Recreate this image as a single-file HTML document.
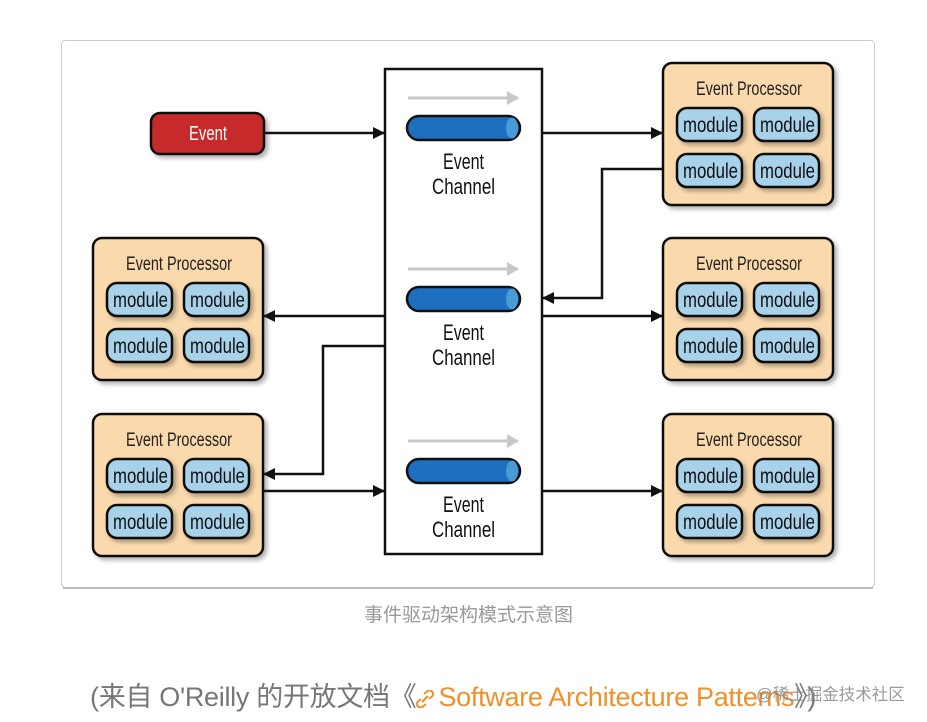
<!DOCTYPE html>
<html><head><meta charset="utf-8"><style>
html,body{margin:0;padding:0;background:#fff;width:927px;height:722px;overflow:hidden}
svg text{font-family:"Liberation Sans",sans-serif}
.cap{position:absolute;left:0;width:937px;top:600px;text-align:center;font:19px "Liberation Sans","Noto Sans CJK SC",sans-serif;color:#999;letter-spacing:0px}
.src{position:absolute;left:90px;top:675px;font:27px "Liberation Sans","Noto Sans CJK SC",sans-serif;color:#777;white-space:nowrap;letter-spacing:-0.3px}
.src a{color:#f0902a;text-decoration:none}
.wm{position:absolute;left:756px;top:681px;font:16.5px "Liberation Sans","Noto Sans CJK SC",sans-serif;color:#888;white-space:nowrap;opacity:.85}
</style></head><body>
<svg width="927" height="722" style="position:absolute;left:0;top:0">
<defs>
<marker id="ah" markerWidth="12" markerHeight="12" refX="11" refY="6" orient="auto" markerUnits="userSpaceOnUse"><path d="M0,0 L12,6 L0,12 z" fill="#111"/></marker>
<marker id="gh" markerWidth="12" markerHeight="14" refX="11" refY="7" orient="auto" markerUnits="userSpaceOnUse"><path d="M0,0 L12,7 L0,14 z" fill="#c8c8c8"/></marker>
<filter id="sh" x="-10%" y="-10%" width="130%" height="130%"><feDropShadow dx="3" dy="3" stdDeviation="2" flood-color="#000" flood-opacity="0.3"/></filter>
<g id="proc">
<rect x="0" y="0" width="170" height="142" rx="9" fill="#fad9ad" stroke="#111" stroke-width="2.5" filter="url(#sh)"/>
<text x="33" y="32" font-size="19" fill="#222" textLength="106" lengthAdjust="spacingAndGlyphs">Event Processor</text>
<g fill="#a8d1ea" stroke="#111" stroke-width="2.5">
<rect x="14" y="45" width="65" height="33" rx="10" filter="url(#sh)"/>
<rect x="91" y="45" width="65" height="33" rx="10" filter="url(#sh)"/>
<rect x="14" y="91" width="65" height="33" rx="10" filter="url(#sh)"/>
<rect x="91" y="91" width="65" height="33" rx="10" filter="url(#sh)"/>
</g>
<g font-size="21" fill="#111">
<text x="20" y="69" textLength="55" lengthAdjust="spacingAndGlyphs">module</text><text x="97" y="69" textLength="55" lengthAdjust="spacingAndGlyphs">module</text>
<text x="20" y="115" textLength="55" lengthAdjust="spacingAndGlyphs">module</text><text x="97" y="115" textLength="55" lengthAdjust="spacingAndGlyphs">module</text>
</g>
</g>
<g id="chan">
<line x1="408" y1="0" x2="518" y2="0" stroke="#c8c8c8" stroke-width="3" marker-end="url(#gh)"/>
<rect x="407" y="18" width="113" height="24" rx="12" fill="#1f6fc0" stroke="#111" stroke-width="2.5"/>
<ellipse cx="512" cy="30" rx="6" ry="10.5" fill="#4a9ad6"/>
<text x="443" y="71" font-size="22" fill="#111" textLength="41" lengthAdjust="spacingAndGlyphs">Event</text>
<text x="432" y="96" font-size="22" fill="#111" textLength="63" lengthAdjust="spacingAndGlyphs">Channel</text>
</g>
</defs>
<rect x="61.5" y="40.5" width="813" height="547" rx="4" fill="#fff" stroke="#ccc"/>
<line x1="63" y1="588" x2="873" y2="588" stroke="#bbb" stroke-width="2"/>
<rect x="385" y="69" width="157" height="485" fill="#fff" stroke="#111" stroke-width="2.5"/>
<use href="#chan" y="98"/>
<use href="#chan" y="269"/>
<use href="#chan" y="441"/>
<rect x="151" y="113" width="113" height="41" rx="9" fill="#c62a2a" stroke="#111" stroke-width="2.5" filter="url(#sh)"/>
<text x="189" y="140" font-size="20" fill="#fff" textLength="38" lengthAdjust="spacingAndGlyphs">Event</text>
<use href="#proc" x="663" y="63"/>
<use href="#proc" x="663" y="238"/>
<use href="#proc" x="663" y="414"/>
<use href="#proc" x="93" y="238"/>
<use href="#proc" x="93" y="414"/>
<g stroke="#111" stroke-width="2.5" fill="none">
<line x1="265" y1="133" x2="384" y2="133" marker-end="url(#ah)"/>
<line x1="543" y1="133" x2="662" y2="133" marker-end="url(#ah)"/>
<polyline points="663,169 602,169 602,298 543,298" marker-end="url(#ah)"/>
<line x1="543" y1="316" x2="662" y2="316" marker-end="url(#ah)"/>
<line x1="385" y1="316" x2="264" y2="316" marker-end="url(#ah)"/>
<polyline points="385,346 323,346 323,474 264,474" marker-end="url(#ah)"/>
<line x1="264" y1="491" x2="384" y2="491" marker-end="url(#ah)"/>
<line x1="543" y1="491" x2="662" y2="491" marker-end="url(#ah)"/>
</g>
</svg>
<div class="cap">事件驱动架构模式示意图</div>
<div class="src">(来自 O'Reilly 的开放文档《<a><svg width="18" height="18" viewBox="0 0 18 18" style="vertical-align:-2px;margin-right:4px"><g fill="none" stroke="#f0902a" stroke-width="2"><path d="M8 4 L11 1.5 a3 3 0 0 1 5 5 L13 9"/><path d="M10 14 L7 16.5 a3 3 0 0 1 -5 -5 L5 9"/><path d="M6 12 L12 6"/></g></svg>Software Architecture Patterns</a>》)</div>
<div class="wm">@稀土掘金技术社区</div>
</body></html>
